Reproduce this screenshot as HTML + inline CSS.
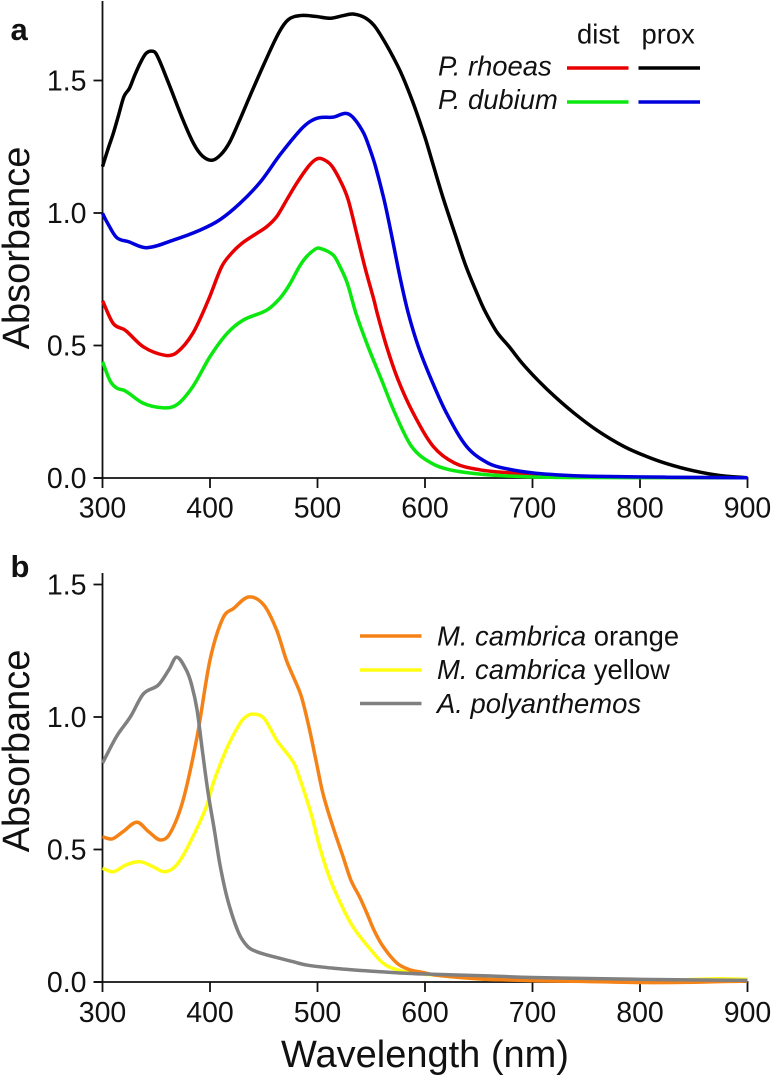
<!DOCTYPE html>
<html lang="en">
<head>
<meta charset="utf-8">
<title>Absorbance spectra</title>
<style>
html,body{margin:0;padding:0;background:#fff;}
svg{display:block;font-family:"Liberation Sans",Arial,sans-serif;fill:#111;}
.tick{font-size:28.5px;}
.title{font-size:38px;}
.leg{font-size:27.4px;}
.panel{font-size:31px;font-weight:bold;}
</style>
</head>
<body>
<svg id="fig" width="773" height="1078" viewBox="0 0 773 1078" xmlns="http://www.w3.org/2000/svg">
  <rect x="0" y="0" width="773" height="1078" fill="#fff"/>
  <text class="panel" x="10.5" y="40">a</text>
  <text class="panel" x="10.5" y="577">b</text>

  <text class="title" transform="translate(29,248) rotate(-90)" text-anchor="middle">Absorbance</text>
  <text class="title" transform="translate(29,751) rotate(-90)" text-anchor="middle">Absorbance</text>
  <text class="title" x="425" y="1067" text-anchor="middle">Wavelength (nm)</text>

  <g id="panelA"></g>
  <g id="panelB"></g>

  <g>
    <text class="leg" x="577" y="43.5">dist</text>
    <text class="leg" x="641.5" y="43.5">prox</text>
    <text class="leg" x="438" y="75.5" font-style="italic">P. rhoeas</text>
    <text class="leg" x="438" y="109" font-style="italic">P. dubium</text>
    <line x1="567" x2="628.5" y1="68" y2="68" stroke="#e80000" stroke-width="3.5"/>
    <line x1="638.5" x2="700" y1="68" y2="68" stroke="#000" stroke-width="3.5"/>
    <line x1="567" x2="628.5" y1="102" y2="102" stroke="#0ae810" stroke-width="3.5"/>
    <line x1="638.5" x2="700" y1="102" y2="102" stroke="#0000dc" stroke-width="3.5"/>
  </g>

  <g>
    <line x1="360" x2="421.5" y1="636" y2="636" stroke="#f58216" stroke-width="3.5"/>
    <line x1="360" x2="421.5" y1="670" y2="670" stroke="#ffff14" stroke-width="3.5"/>
    <line x1="360" x2="421.5" y1="703.5" y2="703.5" stroke="#808080" stroke-width="3.5"/>
    <text class="leg" x="437" y="645.5"><tspan font-style="italic">M. cambrica</tspan> orange</text>
    <text class="leg" x="437" y="679"><tspan font-style="italic">M. cambrica</tspan> yellow</text>
    <text class="leg" x="437" y="713" font-style="italic">A. polyanthemos</text>
  </g>
</svg>

<script>
// Axis tick labels
const xTicks = [300, 400, 500, 600, 700, 800, 900];
const yTicksA = ["0.0", "0.5", "1.0", "1.5"];
const yTicksB = ["0.0", "0.5", "1.0", "1.5"];

// Panel a: P. rhoeas proximal (black)
const rhoeasProxNm = [300,305,310,315,320,325,330,335,340,345,350,360,375,385,393,402,410,418,427,437,450,464,473,484,498,512,524,533,545,555,575,588,600,607,617,628,638,651,656.4,667,678,690,704.5,720,738.6,760,785,805,825,850,875,900];
const rhoeasProxAbs = [1.175,1.24,1.30,1.37,1.44,1.47,1.52,1.565,1.60,1.611,1.60,1.505,1.35,1.26,1.215,1.199,1.22,1.265,1.345,1.44,1.56,1.68,1.73,1.745,1.742,1.735,1.745,1.751,1.735,1.695,1.552,1.426,1.285,1.19,1.055,0.92,0.80,0.672,0.625,0.55,0.497,0.435,0.371,0.31,0.245,0.18,0.119,0.083,0.054,0.027,0.009,0.001];

// Panel a: P. rhoeas distal (red)
const rhoeasDistNm = [300,310,321,338,358,369,384,398.5,410.8,420,429.5,443.4,452.7,462,471.3,480.6,491.4,497.6,502.3,509,513.8,522.4,528.6,536.4,544,552.5,555.6,564.3,575,589,607.7,627.8,651,680,700,730,770,900];
const rhoeasDistAbs = [0.669,0.583,0.558,0.495,0.463,0.473,0.546,0.672,0.797,0.848,0.885,0.923,0.948,0.986,1.049,1.112,1.175,1.2,1.206,1.194,1.175,1.112,1.049,0.923,0.797,0.672,0.621,0.496,0.37,0.245,0.119,0.056,0.031,0.019,0.014,0.008,0.003,0.001];

// Panel a: P. dubium distal (green)
const dubiumDistNm = [300,307,313,321,338,356,369,384,400,416,431,453,465,474,483,490,498,502,514.7,521,527.7,535.8,547,559.6,572,587.5,606,623,648,670,700,750,900];
const dubiumDistAbs = [0.439,0.367,0.34,0.329,0.282,0.265,0.276,0.345,0.458,0.546,0.596,0.634,0.678,0.73,0.797,0.836,0.864,0.867,0.841,0.797,0.735,0.621,0.496,0.37,0.245,0.119,0.056,0.031,0.016,0.009,0.004,0.002,0.001];

// Panel a: P. dubium proximal (blue)
const dubiumProxNm = [300,304,313,324,341,366,391,409,428,447,465,484,493,502,515,526,533,543,549,554,562,568,577.3,584.5,593.8,606,620,638.7,658.8,677,701,732,763,825,900];
const dubiumProxAbs = [0.999,0.967,0.908,0.892,0.869,0.898,0.936,0.974,1.037,1.118,1.219,1.313,1.345,1.36,1.362,1.376,1.361,1.301,1.238,1.175,1.049,0.935,0.747,0.621,0.496,0.37,0.245,0.119,0.056,0.034,0.019,0.01,0.006,0.003,0.001];

// Panel b: M. cambrica orange
const orangeNm = [300,309,319,332,343,354,363,375,388,400,412,422,436,450,462,471,477.5,485,492,498.5,505,514,524,531,539,546,552.5,561,574,586,598,610,650,700,750,800,850,900];
const orangeAbs = [0.548,0.54,0.567,0.603,0.567,0.536,0.562,0.687,0.926,1.215,1.373,1.41,1.453,1.423,1.328,1.215,1.152,1.077,0.963,0.838,0.712,0.59,0.47,0.385,0.322,0.259,0.196,0.134,0.071,0.046,0.036,0.026,0.012,0.005,0.002,-0.002,-0.001,0.004];

// Panel b: M. cambrica yellow
const yellowNm = [300,310,322,335,347,358,369,381,397,403,416,428,433,439,450,462,478,484,494,502,512,526,535,547,561,574,590,610,650,700,800,870,900];
const yellowAbs = [0.429,0.416,0.442,0.454,0.435,0.416,0.442,0.523,0.665,0.75,0.885,0.977,1.0,1.011,0.996,0.913,0.826,0.762,0.636,0.51,0.385,0.259,0.196,0.134,0.071,0.046,0.034,0.026,0.012,0.008,0.004,0.012,0.01];

// Panel b: A. polyanthemos (grey)
const grayNm = [300,313,326,338,352,362,369,378,383,388,393,398,404,409.4,416.5,426.8,435,443,453,477,490,515,546,577,600,650,700,800,900];
const grayAbs = [0.826,0.926,1.001,1.087,1.121,1.18,1.226,1.177,1.12,1.026,0.87,0.72,0.575,0.44,0.309,0.184,0.134,0.115,0.102,0.077,0.064,0.052,0.042,0.034,0.03,0.024,0.017,0.01,0.006];

const SVGNS = "http://www.w3.org/2000/svg";

function xScale(nm) { return 102.5 + (nm - 300) * 1.075; }

function makeLine(parent, x1, y1, x2, y2) {
  const l = document.createElementNS(SVGNS, "line");
  l.setAttribute("x1", x1); l.setAttribute("y1", y1);
  l.setAttribute("x2", x2); l.setAttribute("y2", y2);
  l.setAttribute("stroke", "#111");
  l.setAttribute("stroke-width", "1.8");
  parent.appendChild(l);
  return l;
}

function makeText(parent, x, y, str, anchor) {
  const t = document.createElementNS(SVGNS, "text");
  t.setAttribute("x", x); t.setAttribute("y", y);
  t.setAttribute("text-anchor", anchor);
  t.setAttribute("class", "tick");
  t.textContent = str;
  parent.appendChild(t);
  return t;
}

function splinePath(xs, ys, sx, sy) {
  const px = xs.map(sx), py = ys.map(sy);
  const n = px.length;
  const m = px.map(function (_, i) {
    const a = Math.max(i - 1, 0), b = Math.min(i + 1, n - 1);
    return (py[b] - py[a]) / (px[b] - px[a]);
  });
  let d = "M" + px[0].toFixed(2) + " " + py[0].toFixed(2);
  for (let i = 0; i < n - 1; i++) {
    const h = (px[i + 1] - px[i]) / 3;
    d += "C" + (px[i] + h).toFixed(2) + " " + (py[i] + m[i] * h).toFixed(2) + " " +
      (px[i + 1] - h).toFixed(2) + " " + (py[i + 1] - m[i + 1] * h).toFixed(2) + " " +
      px[i + 1].toFixed(2) + " " + py[i + 1].toFixed(2);
  }
  return d;
}

function drawAxes(group, base, top, yLabels, xBase) {
  const sy = function (v) { return base - 265 * v; };
  const yAxis = makeLine(group, 102.5, top, 102.5, base + 0.9);
  
  
  const xAxis = makeLine(group, 93.5, base, xScale(xTicks[xTicks.length - 1]) + 0.9, base);
  
  
  yLabels.forEach(function (lab) {
    const v = parseFloat(lab);
    const tk = makeLine(group, 93.5, sy(v), 102.5, sy(v));
    
    
    const tl = makeText(group, 86.5, sy(v) + 9.8, lab, "end");
    
    
  });
  xTicks.forEach(function (nm) {
    const tk = makeLine(group, xScale(nm), base, xScale(nm), base + 10);
    
    
    const tl = makeText(group, xScale(nm), xBase, String(nm), "middle");
    
    
  });
}

function drawCurve(group, base, xs, ys, color) {
  const sy = function (v) { return base - 265 * v; };
  const p = document.createElementNS(SVGNS, "path");
  p.setAttribute("d", splinePath(xs, ys, xScale, sy));
  p.setAttribute("fill", "none");
  p.setAttribute("stroke", color);
  p.setAttribute("stroke-width", "3.5");
  p.setAttribute("stroke-linejoin", "round");
  group.appendChild(p);
  return p;
}

const panelA = document.getElementById("panelA");
const panelB = document.getElementById("panelB");
drawAxes(panelA, 478, 1, yTicksA, 517.5);
drawAxes(panelB, 982, 573, yTicksB, 1022);

const curveBlack = drawCurve(panelA, 478, rhoeasProxNm, rhoeasProxAbs, "#000");


const curveRed = drawCurve(panelA, 478, rhoeasDistNm, rhoeasDistAbs, "#e80000");


const curveGreen = drawCurve(panelA, 478, dubiumDistNm, dubiumDistAbs, "#0ae810");


const curveBlue = drawCurve(panelA, 478, dubiumProxNm, dubiumProxAbs, "#0000dc");



const curveYellow = drawCurve(panelB, 982, yellowNm, yellowAbs, "#ffff14");


const curveOrange = drawCurve(panelB, 982, orangeNm, orangeAbs, "#f58216");


const curveGray = drawCurve(panelB, 982, grayNm, grayAbs, "#808080");


</script>
</body>
</html>
